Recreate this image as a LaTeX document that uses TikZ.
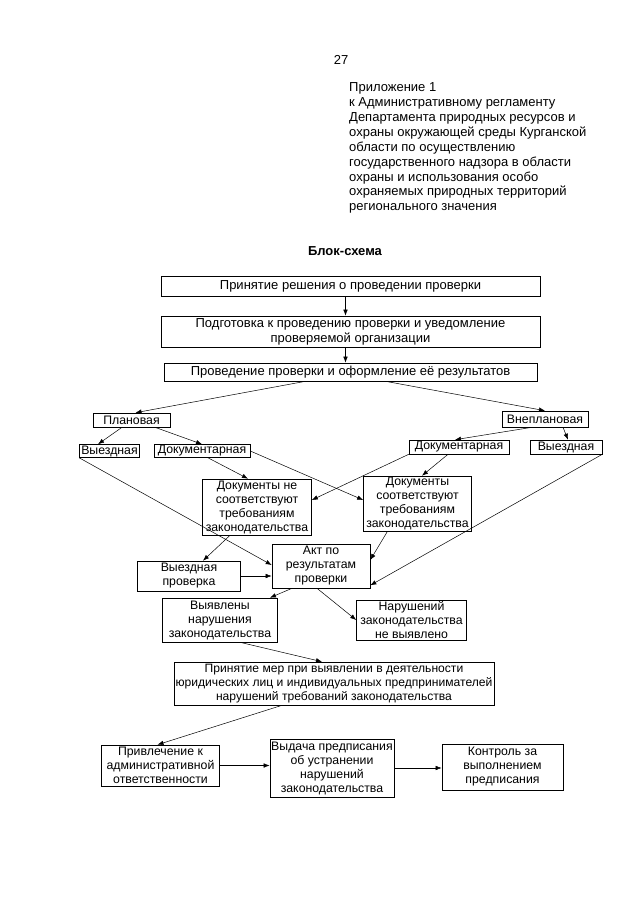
\documentclass[tikz,border=0pt]{standalone}
\usepackage{fontspec}
\setmainfont{Liberation Sans}
\usetikzlibrary{arrows.meta}
\begin{document}
\begin{tikzpicture}[x=1pt,y=-1pt,
  box/.style={draw, line width=0.6pt, align=center, inner sep=0pt, font=\fontsize{12.3}{14}\selectfont},
  bigbox/.style={box, font=\fontsize{13}{15}\selectfont},
  arr/.style={-{Latex[length=6pt,width=4.5pt]}, line width=0.5pt}]
\useasboundingbox[fill=white] (0,0) rectangle (640,905);

\node[font=\fontsize{13}{15}\selectfont, inner sep=0pt] (pg) at (341,60) {27};
\node[anchor=north west, align=left, inner sep=0pt, font=\fontsize{13}{14.9}\selectfont] (hdr) at (349,82.5)
 {Приложение 1\\к Административному регламенту\\Департамента природных ресурсов и\\охраны окружающей среды Курганской\\области по осуществлению\\государственного надзора в области\\охраны и использования особо\\охраняемых природных территорий\\регионального значения};
\node[font=\bfseries\fontsize{13}{15}\selectfont, inner sep=0pt] (title) at (345,251) {Блок-схема};

\node[bigbox, minimum width=379pt, minimum height=20pt] (b1) at (350.5,286) {Принятие решения о проведении проверки};
\node[bigbox, minimum width=379pt, minimum height=31pt] (b2) at (350.5,331.5) {Подготовка к проведению проверки и уведомление\\проверяемой организации};
\node[bigbox, minimum width=373pt, minimum height=18pt] (b3) at (350.5,372) {Проведение проверки и оформление её результатов};

\node[box, minimum width=77pt, minimum height=14pt] (plan) at (131.5,420) {Плановая};
\node[box, minimum width=86pt, minimum height=16pt] (vnepl) at (545,419) {Внеплановая};
\node[box, minimum width=60pt, minimum height=13pt] (vy1) at (109.5,451) {Выездная};
\node[box, minimum width=96pt, minimum height=13pt] (doc1) at (202,451) {Документарная};
\node[box, minimum width=100pt, minimum height=14pt] (doc2) at (459,447) {Документарная};
\node[box, minimum width=72pt, minimum height=14pt] (vy2) at (566,447) {Выездная};

\node[box, minimum width=109pt, minimum height=56pt] (nc) at (257,507) {Документы не\\соответствуют\\требованиям\\законодательства};
\node[box, minimum width=108pt, minimum height=55pt] (c) at (417.5,503.5) {Документы\\соответствуют\\требованиям\\законодательства};

\node[box, minimum width=98pt, minimum height=44pt] (akt) at (321,566) {Акт по\\результатам\\проверки};
\node[box, minimum width=103pt, minimum height=30pt] (vp) at (189,576) {Выездная\\проверка};
\node[box, minimum width=115pt, minimum height=44pt] (vyav) at (220,620) {Выявлены\\нарушения\\законодательства};
\node[box, minimum width=110pt, minimum height=40pt] (nn) at (411.5,620) {Нарушений\\законодательства\\не выявлено};

\node[box, font=\fontsize{12.1}{14}\selectfont, minimum width=320pt, minimum height=43pt] (mery) at (334,683.5) {Принятие мер при выявлении в деятельности\\юридических лиц и индивидуальных предпринимателей\\нарушений требований законодательства};

\node[box, minimum width=118pt, minimum height=41pt] (priv) at (160.5,765.5) {Привлечение к\\административной\\ответственности};
\node[box, minimum width=124pt, minimum height=58pt] (vyd) at (332,768) {Выдача предписания\\об устранении\\нарушений\\законодательства};
\node[box, minimum width=121pt, minimum height=46pt] (kontr) at (502.5,767) {Контроль за\\выполнением\\предписания};

% connectors
\draw[arr] ([xshift=-5pt]b1.south) -- ([xshift=-5pt]b2.north);
\draw[arr] ([xshift=-5pt]b2.south) -- ([xshift=-5pt]b3.north);
\draw[arr] ([xshift=-45pt]b3.south) -- ([xshift=4pt]plan.north);
\draw[arr] ([xshift=35pt]b3.south) -- (vnepl.north);
\draw[arr] ([xshift=-9.5pt]plan.south) -- ([xshift=-11.5pt]vy1.north);
\draw[arr] ([xshift=23.5pt]plan.south) -- (doc1.north);
\draw[arr] ([xshift=-13pt]vnepl.south) -- ([xshift=-4pt]doc2.north);
\draw[arr] ([xshift=18pt]vnepl.south) -- ([xshift=2pt]vy2.north);
\draw[arr] (vy1.south west) -- ([yshift=1pt]akt.west);
\draw[arr] ([xshift=6pt]doc1.south) -- ([xshift=-9pt]nc.north);
\draw[arr] (doc1.east) -- ([yshift=3.5pt]c.west);
\draw[arr] (doc2.south west) -- ([yshift=7pt]nc.east);
\draw[arr] ([xshift=-11pt]doc2.south) -- ([xshift=4.5pt]c.north);
\draw[arr] (vy2.south east) -- ([yshift=3pt]akt.south east);
\draw[arr] ([xshift=-30pt]c.south) -- ([yshift=6pt]akt.east);
\draw[arr] ([xshift=-27pt]nc.south) -- ([xshift=14pt]vp.north);
\draw[arr] (vp.east) -- (vp.east -| akt.west);
\draw[arr] ([xshift=-29pt]akt.south) -- ([xshift=50pt]vyav.north);
\draw[arr] ([xshift=-4pt]akt.south) -- (nn.west);
\draw[arr] ([xshift=20pt]vyav.south) -- ([xshift=-12pt]mery.north);
\draw[arr] ([xshift=-52pt]mery.south) -- ([xshift=-3pt]priv.north);
\draw[arr] (priv.east) -- (priv.east -| vyd.west);
\draw[arr] (vyd.east) -- (vyd.east -| kontr.west);
\end{tikzpicture}
\end{document}
